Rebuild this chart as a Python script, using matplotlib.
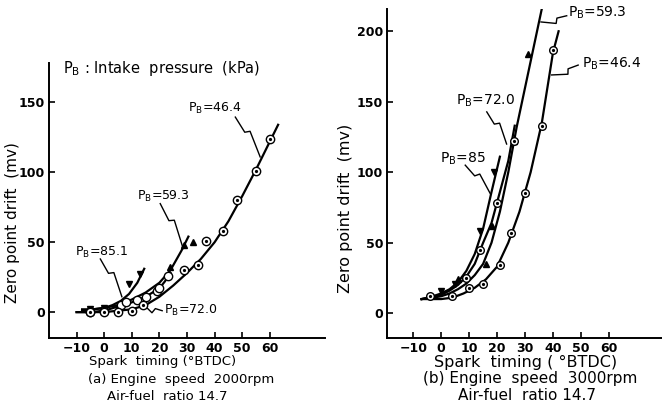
import matplotlib
matplotlib.use("Agg")
import matplotlib.pyplot as plt
import numpy as np
from matplotlib.transforms import IdentityTransform

# ---- (a) 2000 rpm : measured points ----
a85_x = [-5, 0, 9, 13]
a85_y = [2, 3, 20, 27]
a59_x = [-5, 0, 5, 24, 29, 32]
a59_y = [2, 3, 4, 32, 48, 50]
a72_x = [-5, 0, 6, 8, 12, 15, 19, 20, 23]
a72_y = [0, 1, 5, 7, 9, 11, 15, 17, 26]
a46_x = [-5, 0, 5, 10, 14, 29, 34, 37, 43, 48, 55, 60]
a46_y = [0, 0, 0, 1, 5, 30, 34, 51, 58, 80, 101, 124]

# ---- (a) hand-drawn trend curves ----
ca85_x = [-8, -4, 0, 3, 6, 9, 12, 14.5]
ca85_y = [2, 2, 3, 5, 8, 13, 21, 31]
ca59_x = [-8, -4, 0, 5, 10, 15, 20, 24, 28, 30.5]
ca59_y = [1, 2, 3, 5, 9, 14, 21, 30, 44, 54]
ca72_x = [-10, -5, 0, 5, 10, 15, 20, 22, 24]
ca72_y = [0, 0, 1, 4, 7, 11, 17, 22, 28]
ca46_x = [-10, -5, 0, 5, 10, 15, 20, 25, 30, 35, 40, 45, 50, 55, 60, 63]
ca46_y = [0, 0, 0, 1, 2, 5, 11, 19, 28, 38, 50, 65, 83, 102, 122, 134]

# ---- (b) 3000 rpm : measured points ----
b85_x = [0, 5, 14, 19]
b85_y = [16, 21, 58, 100]
b72_x = [9, 14, 20, 26]
b72_y = [25, 45, 78, 122]
b59_x = [6, 16, 18, 26, 31]
b59_y = [24, 35, 62, 122, 184]
b46_x = [-4, 4, 10, 15, 21, 25, 30, 36, 40]
b46_y = [12, 12, 18, 21, 34, 57, 85, 133, 187]

# ---- (b) trend curves ----
cb85_x = [-7, -3, 0, 3, 6, 9, 12, 15, 18, 21]
cb85_y = [10, 12, 14, 17, 22, 30, 42, 60, 86, 111]
cb72_x = [-7, -3, 0, 3, 6, 9, 12, 15, 18, 21, 24, 26.3]
cb72_y = [10, 11, 13, 16, 20, 26, 35, 50, 64, 86, 108, 133]
cb59_x = [-7, -3, 0, 3, 6, 9, 12, 15, 18, 21, 24, 27, 30, 33, 36]
cb59_y = [10, 11, 12, 14, 17, 21, 27, 35, 50, 72, 100, 132, 160, 188, 216]
cb46_x = [-7, -3, 0, 4, 8, 12, 16, 20, 24, 28, 32, 36, 40, 42]
cb46_y = [10, 10, 10, 11, 14, 18, 24, 33, 50, 72, 100, 135, 185, 200]

x_ticks = [-10, 0, 10, 20, 30, 40, 50, 60]
a_yticks = [0, 50, 100, 150]
b_yticks = [0, 50, 100, 150, 200]

NARROW = ["Liberation Sans Narrow", "DejaVu Sans"]


def dotted_circles(ax, x, y, ms=6):
    ax.plot(x, y, ls="none", marker="o", ms=ms, mfc="white", mec="black",
            mew=1.0, zorder=4)
    ax.plot(x, y, ls="none", marker="o", ms=1.3, color="black", zorder=5)


def leader(ax, start, end):
    # label pointer with a small zigzag in the middle
    p0 = ax.transData.transform(start)
    p3 = ax.transData.transform(end)
    d = p3 - p0
    u = d / np.hypot(*d)
    perp = np.array([-u[1], u[0]])
    a = p0 + 0.38 * d
    b = a + 5 * perp + 2 * u
    pts = np.array([p0, a, b, p3])
    ax.plot(pts[:, 0], pts[:, 1], color="black", lw=1.0,
            transform=IdentityTransform(), clip_on=False)


def style(ax, yticks, fs):
    ax.spines["top"].set_visible(False)
    ax.spines["right"].set_visible(False)
    ax.spines["left"].set_linewidth(1.4)
    ax.spines["bottom"].set_linewidth(1.4)
    ax.set_xticks(x_ticks)
    ax.set_yticks(yticks)
    ax.tick_params(direction="in", length=4, width=1.2, pad=3)
    for lab in ax.get_xticklabels() + ax.get_yticklabels():
        lab.set_family(NARROW)
        lab.set_fontsize(fs)
        lab.set_fontweight("bold")


fig = plt.figure(figsize=(6.62, 4.03), dpi=100)
ax1 = fig.add_axes([0.074, 0.161, 0.417, 0.682])
ax2 = fig.add_axes([0.585, 0.161, 0.415, 0.816])

# ----- panel (a) -----
ax1.set_xlim(-20, 80)
ax1.set_ylim(-18.6, 178)
for cx, cy in [(ca85_x, ca85_y), (ca59_x, ca59_y), (ca72_x, ca72_y), (ca46_x, ca46_y)]:
    ax1.plot(cx, cy, color="black", lw=1.6)
ax1.plot(a85_x, a85_y, ls="none", marker="v", ms=5, color="black", zorder=4)
ax1.plot(a59_x, a59_y, ls="none", marker="^", ms=5, color="black", zorder=4)
ax1.plot(a72_x, a72_y, ls="none", marker="o", ms=6, mfc="white", mec="black",
         mew=1.0, zorder=4)
dotted_circles(ax1, a46_x, a46_y)
style(ax1, a_yticks, 9)

pb_a = 9
ax1.text(-14.9, 174, r"P$_\mathrm{B}$ : Intake  pressure  (kPa)", fontsize=10.5,
         va="center", ha="left")
ax1.text(30.5, 145.5, r"P$_\mathrm{B}$=46.4", fontsize=pb_a, va="center")
leader(ax1, (47.5, 139.5), (56.5, 111))
ax1.text(11.8, 82.4, r"P$_\mathrm{B}$=59.3", fontsize=pb_a, va="center")
leader(ax1, (20.3, 77.6), (28.6, 45.5))
ax1.text(-10.5, 43, r"P$_\mathrm{B}$=85.1", fontsize=pb_a, va="center")
leader(ax1, (-1.4, 38), (6.4, 11))
ax1.text(21.5, 1, r"P$_\mathrm{B}$=72.0", fontsize=pb_a, va="center")
leader(ax1, (21.0, 1), (14.5, 5))

ax1.set_ylabel("Zero point drift  (mv)", fontsize=11)
ax1.yaxis.set_label_coords(-0.105, 0.42)
fig.text(163 / 662, 1 - 362 / 403, "Spark  timing (°BTDC)", fontsize=9.5,
         ha="center", va="center")
fig.text(181 / 662, 1 - 379 / 403, "(a) Engine  speed  2000rpm", fontsize=9.5,
         ha="center", va="center")
fig.text(167 / 662, 1 - 396 / 403, "Air-fuel  ratio 14.7", fontsize=9.5,
         ha="center", va="center")

# ----- panel (b) -----
ax2.set_xlim(-19.3, 79)
ax2.set_ylim(-17.7, 215.6)
for cx, cy in [(cb85_x, cb85_y), (cb72_x, cb72_y), (cb59_x, cb59_y), (cb46_x, cb46_y)]:
    ax2.plot(cx, cy, color="black", lw=1.6)
ax2.plot(b85_x, b85_y, ls="none", marker="v", ms=5, color="black", zorder=4)
ax2.plot(b59_x, b59_y, ls="none", marker="^", ms=5, color="black", zorder=4)
dotted_circles(ax2, b72_x, b72_y, ms=5.5)
dotted_circles(ax2, b46_x, b46_y, ms=5.5)
style(ax2, b_yticks, 9)

pb_b = 10
ax2.text(45.4, 212.8, r"P$_\mathrm{B}$=59.3", fontsize=pb_b, va="center",
         clip_on=False)
leader(ax2, (44.9, 211), (35.7, 206.6))
ax2.text(50.4, 177, r"P$_\mathrm{B}$=46.4", fontsize=pb_b, va="center")
leader(ax2, (49, 176), (39.5, 169))
ax2.text(5.4, 151, r"P$_\mathrm{B}$=72.0", fontsize=pb_b, va="center")
leader(ax2, (16.3, 142.8), (23.4, 120))
ax2.text(-0.6, 109.7, r"P$_\mathrm{B}$=85", fontsize=pb_b, va="center")
leader(ax2, (8.6, 105), (17.5, 85))

ax2.set_ylabel("Zero point drift  (mv)", fontsize=11.5)
ax2.yaxis.set_label_coords(-0.124, 0.395)
fig.text(526 / 662, 1 - 362 / 403, "Spark  timing ( °BTDC)", fontsize=11.5,
         ha="center", va="center")
fig.text(530 / 662, 1 - 379 / 403, "(b) Engine  speed  3000rpm", fontsize=11,
         ha="center", va="center")
fig.text(527 / 662, 1 - 396 / 403, "Air-fuel  ratio 14.7", fontsize=11,
         ha="center", va="center")

fig.savefig("out.png", dpi=100)
